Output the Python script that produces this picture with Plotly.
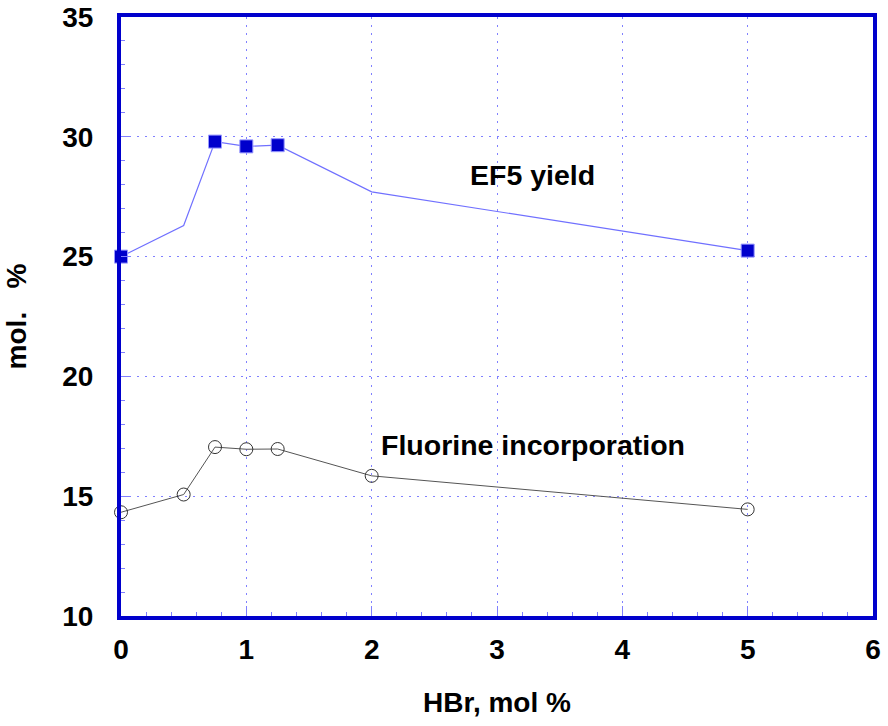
import plotly.graph_objects as go

# HBr concentration, mol %
hbr = [0, 0.5, 0.75, 1.0, 1.25, 2.0, 5.0]
# EF5 yield, mol % (markers only where measured)
ef5_yield = [25.0, 26.3, 29.8, 29.6, 29.65, 27.7, 25.25]
ef5_marked = [True, False, True, True, True, False, True]
# Fluorine incorporation, mol %
fluorine = [14.33, 15.07, 17.05, 16.96, 16.97, 15.85, 14.45]

x_ticks = [0, 1, 2, 3, 4, 5, 6]
y_ticks = [10, 15, 20, 25, 30, 35]

FRAME = "#0000cc"
GRID = "#8080ff"
FONT = "Liberation Sans, Arial"

fig = go.Figure()

# EF5 yield line
fig.add_trace(go.Scatter(x=hbr, y=ef5_yield, mode="lines",
                         line=dict(color="#7070ff", width=1.2), showlegend=False))
# EF5 yield markers
mx = [x for x, m in zip(hbr, ef5_marked) if m]
my = [y for y, m in zip(ef5_yield, ef5_marked) if m]
fig.add_trace(go.Scatter(x=mx, y=my, mode="markers",
                         marker=dict(symbol="square", size=13, color=FRAME,
                                     line=dict(color="#9999ff", width=1)),
                         showlegend=False, cliponaxis=False))
# Fluorine incorporation
fig.add_trace(go.Scatter(x=hbr, y=fluorine, mode="lines+markers",
                         line=dict(color="#555555", width=1),
                         marker=dict(symbol="circle-open", size=13, color="#333333",
                                     line=dict(width=1)),
                         showlegend=False, cliponaxis=False))

fig.add_annotation(x=3.28, y=28.4, text="<b>EF5 yield</b>", showarrow=False,
                   font=dict(family=FONT, size=28.5, color="black"))
fig.add_annotation(x=3.29, y=17.12, text="<b>Fluorine incorporation</b>", showarrow=False,
                   font=dict(family=FONT, size=28.5, color="black"))

axis_common = dict(
    showline=True, linecolor=FRAME, linewidth=4, mirror=True, automargin=False,
    showgrid=True, gridcolor=GRID, gridwidth=1, griddash="2px,6px",
    zeroline=False, ticks="inside", ticklen=10, tickcolor=GRID, tickwidth=1,
    tickfont=dict(family=FONT, size=28, color="black", weight="bold"),
)

fig.update_xaxes(range=[0, 6], tickvals=x_ticks, ticklabelstandoff=5,
                 minor=dict(dtick=0.2, ticks="inside", ticklen=4, tickcolor=GRID, showgrid=False),
                 title=dict(text="<b>HBr, mol %</b>", standoff=30,
                            font=dict(family=FONT, size=28, color="black")),
                 **axis_common)
fig.update_yaxes(range=[10, 35], tickvals=y_ticks, ticklabelstandoff=18,
                 minor=dict(dtick=1, ticks="inside", ticklen=4, tickcolor=GRID, showgrid=False),
                 title=dict(text="<b>mol.&nbsp;&nbsp;&nbsp;%</b>", standoff=28,
                            font=dict(family=FONT, size=28, color="black")),
                 **axis_common)

fig.update_layout(
    width=888, height=726,
    margin=dict(l=121, r=15, t=17, b=110),
    plot_bgcolor="white", paper_bgcolor="white",
)

fig.write_html("out.html", config={"displayModeBar": False},
               post_script="document.body.style.margin='0';")
